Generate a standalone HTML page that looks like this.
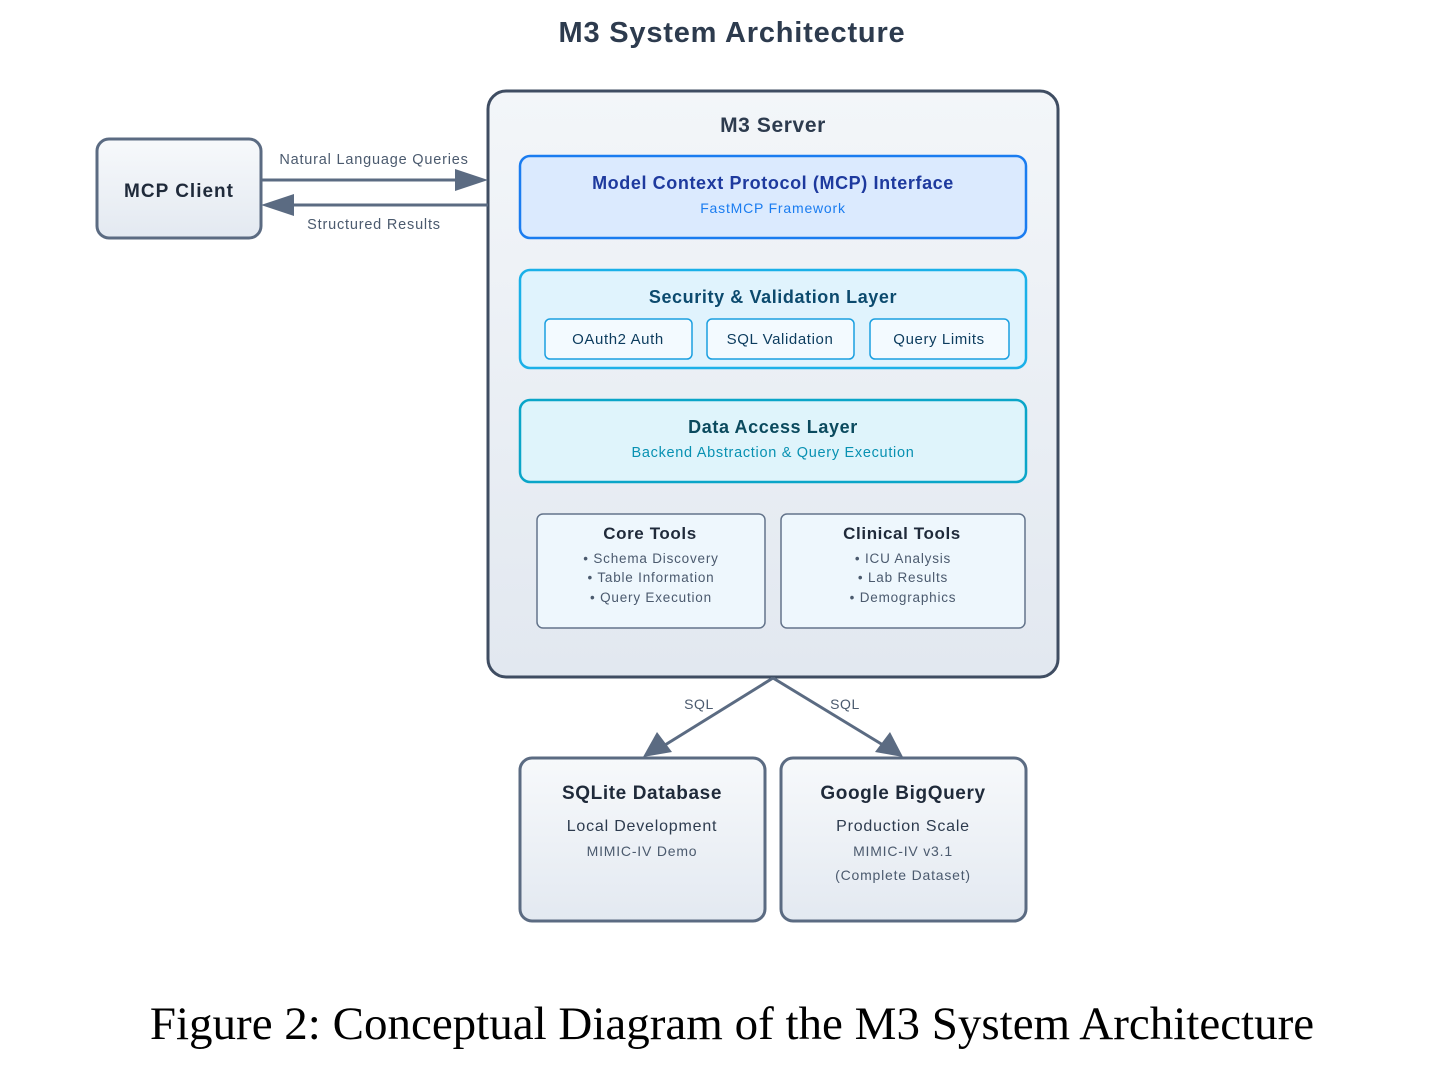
<!DOCTYPE html>
<html><head><meta charset="utf-8"><style>
html,body{margin:0;padding:0;background:#fff;}
svg{display:block;font-family:"Liberation Sans","DejaVu Sans",sans-serif;letter-spacing:0.6px;}
</style></head><body>
<svg width="1456" height="1066" viewBox="0 0 1456 1066" xmlns="http://www.w3.org/2000/svg">
<defs>
<linearGradient id="g1" x1="0" y1="0" x2="0" y2="1"><stop offset="0" stop-color="#f3f6f9"/><stop offset="1" stop-color="#e2e8f0"/></linearGradient>
<linearGradient id="g2" x1="0" y1="0" x2="0" y2="1"><stop offset="0" stop-color="#f7f9fb"/><stop offset="1" stop-color="#e3e9f1"/></linearGradient>
</defs>
<text x="732" y="42" text-anchor="middle" font-size="29" font-weight="bold" fill="#2d3b4e" letter-spacing="0.8">M3 System Architecture</text>

<rect x="488" y="91" width="570" height="586" rx="18" fill="url(#g1)" stroke="#3f4d62" stroke-width="3"/>
<text x="773" y="132" text-anchor="middle" font-size="21" font-weight="bold" fill="#2d3b4e">M3 Server</text>

<rect x="97" y="139" width="164" height="99" rx="12" fill="url(#g2)" stroke="#5b6b82" stroke-width="3"/>
<text x="179" y="197" text-anchor="middle" font-size="19" font-weight="bold" fill="#1f2a3a" letter-spacing="1">MCP Client</text>

<line x1="261" y1="180" x2="458" y2="180" stroke="#5b6b82" stroke-width="3"/>
<polygon points="455,169 488,180 455,191" fill="#5b6b82"/>
<line x1="488" y1="205" x2="292" y2="205" stroke="#5b6b82" stroke-width="3"/>
<polygon points="294,194 261,205 294,216" fill="#5b6b82"/>
<text x="374" y="164" text-anchor="middle" font-size="14.5" fill="#4b5a6e" letter-spacing="0.8">Natural Language Queries</text>
<text x="374" y="229" text-anchor="middle" font-size="14.5" fill="#4b5a6e" letter-spacing="0.8">Structured Results</text>

<rect x="520" y="156" width="506" height="82" rx="10" fill="#dbeafe" stroke="#1a7cf0" stroke-width="2.5"/>
<text x="773" y="189" text-anchor="middle" font-size="18" font-weight="bold" fill="#1e3a9e">Model Context Protocol (MCP) Interface</text>
<text x="773" y="213" text-anchor="middle" font-size="14" fill="#1a7cf0" letter-spacing="0.8">FastMCP Framework</text>

<rect x="520" y="270" width="506" height="98" rx="10" fill="#e0f3fd" stroke="#1ab0e8" stroke-width="2.5"/>
<text x="773" y="303" text-anchor="middle" font-size="18" font-weight="bold" fill="#0c4a6e">Security &amp; Validation Layer</text>
<rect x="545" y="319" width="147" height="40" rx="5" fill="#f3faff" stroke="#1a9fe0" stroke-width="1.5"/>
<rect x="707" y="319" width="147" height="40" rx="5" fill="#f3faff" stroke="#1a9fe0" stroke-width="1.5"/>
<rect x="870" y="319" width="139" height="40" rx="5" fill="#f3faff" stroke="#1a9fe0" stroke-width="1.5"/>
<text x="618" y="344" text-anchor="middle" font-size="15" fill="#0c3c5e">OAuth2 Auth</text>
<text x="780" y="344" text-anchor="middle" font-size="15" fill="#0c3c5e">SQL Validation</text>
<text x="939" y="344" text-anchor="middle" font-size="15" fill="#0c3c5e">Query Limits</text>

<rect x="520" y="400" width="506" height="82" rx="10" fill="#dff4fb" stroke="#0aa5c8" stroke-width="2.5"/>
<text x="773" y="433" text-anchor="middle" font-size="18" font-weight="bold" fill="#0b4a5e">Data Access Layer</text>
<text x="773" y="457" text-anchor="middle" font-size="14.5" fill="#0891b2" letter-spacing="0.7">Backend Abstraction &amp; Query Execution</text>

<rect x="537" y="514" width="228" height="114" rx="6" fill="#eef7fd" stroke="#64748b" stroke-width="1.5"/>
<rect x="781" y="514" width="244" height="114" rx="6" fill="#eef7fd" stroke="#64748b" stroke-width="1.5"/>
<text x="650" y="539" text-anchor="middle" font-size="17" font-weight="bold" fill="#1f2a3a">Core Tools</text>
<text x="651" y="563" text-anchor="middle" font-size="13.5" fill="#4b5a6e" letter-spacing="0.8">• Schema Discovery</text>
<text x="651" y="582" text-anchor="middle" font-size="13.5" fill="#4b5a6e" letter-spacing="0.8">• Table Information</text>
<text x="651" y="602" text-anchor="middle" font-size="13.5" fill="#4b5a6e" letter-spacing="0.8">• Query Execution</text>
<text x="902" y="539" text-anchor="middle" font-size="17" font-weight="bold" fill="#1f2a3a">Clinical Tools</text>
<text x="903" y="563" text-anchor="middle" font-size="13.5" fill="#4b5a6e" letter-spacing="0.8">• ICU Analysis</text>
<text x="903" y="582" text-anchor="middle" font-size="13.5" fill="#4b5a6e" letter-spacing="0.8">• Lab Results</text>
<text x="903" y="602" text-anchor="middle" font-size="13.5" fill="#4b5a6e" letter-spacing="0.8">• Demographics</text>

<line x1="773" y1="678" x2="665" y2="745" stroke="#5b6b82" stroke-width="3"/>
<polygon points="643,757 657,732 672,752" fill="#5b6b82"/>
<line x1="773" y1="678" x2="883" y2="745" stroke="#5b6b82" stroke-width="3"/>
<polygon points="903,757 875,752 890,732" fill="#5b6b82"/>
<text x="699" y="709" text-anchor="middle" font-size="14" fill="#4b5a6e">SQL</text>
<text x="845" y="709" text-anchor="middle" font-size="14" fill="#4b5a6e">SQL</text>

<rect x="520" y="758" width="245" height="163" rx="12" fill="url(#g2)" stroke="#5b6b82" stroke-width="3"/>
<rect x="781" y="758" width="245" height="163" rx="12" fill="url(#g2)" stroke="#5b6b82" stroke-width="3"/>
<text x="642" y="799" text-anchor="middle" font-size="19" font-weight="bold" fill="#1f2a3a">SQLite Database</text>
<text x="642" y="831" text-anchor="middle" font-size="16" fill="#2d3b4e" letter-spacing="0.8">Local Development</text>
<text x="642" y="856" text-anchor="middle" font-size="14" fill="#4b5a6e" letter-spacing="0.8">MIMIC-IV Demo</text>
<text x="903" y="799" text-anchor="middle" font-size="19" font-weight="bold" fill="#1f2a3a">Google BigQuery</text>
<text x="903" y="831" text-anchor="middle" font-size="16" fill="#2d3b4e" letter-spacing="0.8">Production Scale</text>
<text x="903" y="856" text-anchor="middle" font-size="14" fill="#4b5a6e" letter-spacing="0.8">MIMIC-IV v3.1</text>
<text x="903" y="880" text-anchor="middle" font-size="14" fill="#4b5a6e" letter-spacing="0.8">(Complete Dataset)</text>

<text x="732" y="1039" text-anchor="middle" font-size="47" font-family="Liberation Serif, serif" fill="#000" letter-spacing="0">Figure 2: Conceptual Diagram of the M3 System Architecture</text>
</svg>
</body></html>
